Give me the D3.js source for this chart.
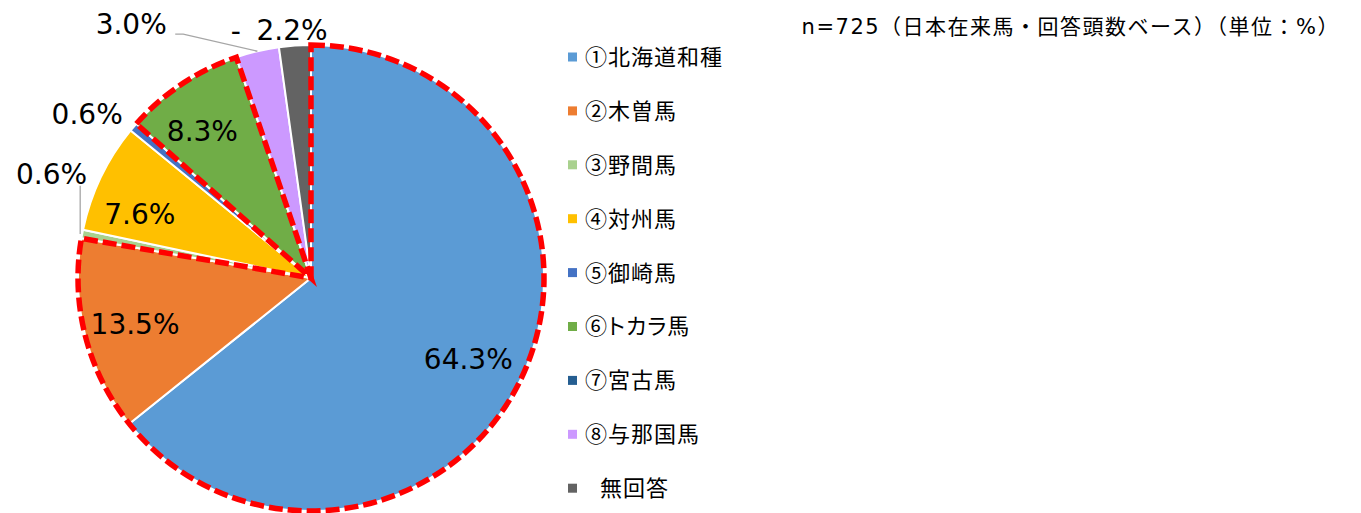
<!DOCTYPE html>
<html>
<head>
<meta charset="utf-8">
<script src="https://cdn.jsdelivr.net/npm/d3@7"></script>
<style>
  body { margin: 0; background: #fff; }
  text { font-family: "DejaVu Sans", "Noto Sans CJK JP", sans-serif; fill: #000; }
  .leg { font-family: "Noto Sans CJK JP", sans-serif; font-feature-settings: "palt"; }
</style>
</head>
<body>
<svg id="chart" width="1361" height="513"></svg>
<script>
// data
var categories = ['①北海道和種', '②木曽馬', '③野間馬', '④対州馬', '⑤御崎馬', '⑥トカラ馬', '⑦宮古馬', '⑧与那国馬', '無回答'];
var values = [64.3, 13.5, 0.6, 7.6, 0.6, 8.3, 0, 3.0, 2.2];
var valueLabels = ['64.3%', '13.5%', '0.6%', '7.6%', '0.6%', '8.3%', '-', '3.0%', '2.2%'];
var colors = ['#5B9BD5', '#ED7D31', '#A9D18E', '#FFC000', '#4472C4', '#70AD47', '#255E91', '#CC99FF', '#636363'];
// slices outlined with red dashes (first group is 1+2 together)
var highlightGroups = [[0, 1], [5]];
var note = 'n=725（日本在来馬・回答頭数ベース）（単位：%）';

// label placement: [radius factor, angle shift in degrees] from slice middle
var labelPlace = [[0.76, 1.7], [0.78, 0], [1.2, 11], [0.785, -5], [1.19, -4.2], [0.785, -2.8], [1.11, 1.8], [1.335, -22], [1.07, -0.4]];
var leaderFor = [2, 7];

var svg = d3.select('#chart');
var cx = 311, cy = 278, r = 233;

var pie = d3.pie().sort(null).value(function(d) { return d; });
var arcs = pie(values);
var arc = d3.arc().innerRadius(0).outerRadius(r);

var g = svg.append('g').attr('transform', 'translate(' + cx + ',' + cy + ')');

g.selectAll('path.slice')
  .data(arcs)
  .enter().append('path')
  .attr('class', 'slice')
  .attr('d', arc)
  .attr('fill', function(d, i) { return colors[i]; })
  .attr('stroke', '#fff')
  .attr('stroke-width', 2)
  .attr('stroke-linejoin', 'round');

// red dashed outlines
for (var k = 0; k < highlightGroups.length; k++) {
  var grp = highlightGroups[k];
  var a0 = arcs[grp[0]].startAngle;
  var a1 = arcs[grp[grp.length - 1]].endAngle;
  g.append('path')
    .attr('d', arc({startAngle: a0, endAngle: a1}))
    .attr('fill', 'none')
    .attr('stroke', '#FF0000')
    .attr('stroke-width', 5.5)
    .attr('stroke-dasharray', '14,5')
    .attr('stroke-linejoin', 'miter');
}

function labelPos(d, i) {
  var mid = (d.startAngle + d.endAngle) / 2 + labelPlace[i][1] * Math.PI / 180;
  var rr = r * labelPlace[i][0];
  return [Math.sin(mid) * rr, -Math.cos(mid) * rr];
}

// leader lines
leaderFor.forEach(function(i) {
  var d = arcs[i];
  var mid = (d.startAngle + d.endAngle) / 2;
  var ex = Math.sin(mid) * r, ey = -Math.cos(mid) * r;
  var p = labelPos(d, i);
  var pts;
  if (i == 2) {
    pts = [[ex - 2, p[1] + 12], [ex - 2, ey]];
  } else {
    pts = [[p[0] + 44, p[1] + 10], [p[0] + 52, p[1] + 10], [ex, ey]];
  }
  g.append('path')
    .attr('d', d3.line()(pts))
    .attr('fill', 'none')
    .attr('stroke', '#A6A6A6')
    .attr('stroke-width', 1.3);
});

g.selectAll('text.val')
  .data(arcs)
  .enter().append('text')
  .attr('class', 'val')
  .attr('x', function(d, i) { return labelPos(d, i)[0]; })
  .attr('y', function(d, i) { return labelPos(d, i)[1]; })
  .attr('dy', '0.36em')
  .attr('text-anchor', 'middle')
  .style('font-size', '28px')
  .text(function(d, i) { return valueLabels[i]; });

// legend
var legend = svg.append('g').attr('transform', 'translate(568,57)');
var rowH = 53.9;
var items = legend.selectAll('g')
  .data(categories)
  .enter().append('g')
  .attr('transform', function(d, i) { return 'translate(0,' + (i * rowH) + ')'; });
items.append('rect')
  .attr('x', 0).attr('y', -4.5)
  .attr('width', 9).attr('height', 9)
  .attr('fill', function(d, i) { return colors[i]; });
items.append('text')
  .attr('class', 'leg')
  .attr('x', function(d, i) { return i == 8 ? 32 : 17; })
  .attr('y', 0)
  .attr('dy', '0.36em')
  .style('font-size', '22px')
  .style('letter-spacing', '1px')
  .text(function(d) { return d; });

svg.append('text')
  .attr('x', 1340)
  .attr('y', 26)
  .attr('dy', '0.36em')
  .attr('text-anchor', 'end')
  .style('font-size', '21px')
  .style('letter-spacing', '1.5px')
  .text(note);
</script>
</body>
</html>
